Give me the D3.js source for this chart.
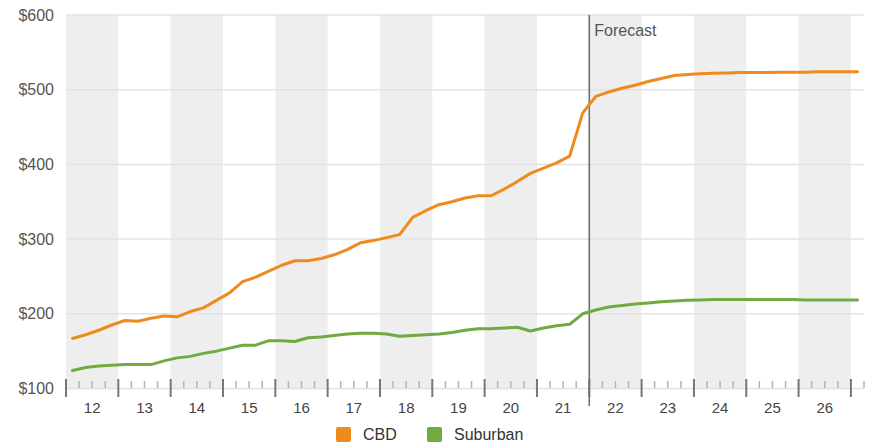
<!DOCTYPE html>
<html>
<head>
<meta charset="utf-8">
<script src="https://cdn.jsdelivr.net/npm/d3@7/dist/d3.min.js"></script>
<style>
  html, body { margin: 0; padding: 0; background: #fff; }
  svg { display: block; font-family: "Liberation Sans", Arial, Helvetica, sans-serif; }
</style>
</head>
<body>
<svg id="chart" width="886" height="447"></svg>
<script>
// Quarterly rents, 2012 Q1 through 2027 Q1 (forecast from 2022 Q1)
const years = d3.range(2012, 2028);
const quarters = years.flatMap(y => [1, 2, 3, 4].map(q => `${y} Q${q}`)).slice(0, 61);
const yearLabels = ["12", "13", "14", "15", "16", "17", "18", "19", "20", "21", "22", "23", "24", "25", "26"];
const yTicks = [100, 200, 300, 400, 500, 600];
const forecastStart = "2022 Q1";

const cbd = [
  167, 172, 178, 185,   191, 190, 194, 197,   196, 203, 208, 218,
  228, 243, 249, 257,   265, 271, 271, 274,   279, 286, 295, 298,
  302, 306, 329, 338,   346, 350, 355, 358,   358, 367, 377, 388,
  395, 402, 411, 469,   491, 497, 502, 506,   511, 515, 519, 520.5,
  521.5, 522, 522.5, 523, 523, 523, 523.5, 523.5, 523.5, 524, 524, 524,
  524
];
const suburban = [
  124, 128, 130, 131,   132, 132, 132, 137,   141, 143, 147, 150,
  154, 158, 158, 164,   164, 163, 168, 169,   171, 173, 174, 174,
  173, 170, 171, 172,   173, 175, 178, 180,   180, 181, 182, 177,
  181, 184, 186, 200,   205, 209, 211, 213,   214.5, 216, 217, 218,
  218.5, 219, 219, 219, 219, 219, 219, 219, 218.5, 218.5, 218.5, 218.5,
  218.5
];

const seriesNames = ["CBD", "Suburban"];
const seriesColors = ["#ef8a1c", "#6fab41"];

const svg = d3.select("#chart");
const plotLeft = 66, plotRight = 864, plotTop = 15, plotBottom = 388.5;

const x = d3.scaleBand().domain(quarters).range([plotLeft, plotRight]).paddingInner(0).paddingOuter(0);
const bw = x.bandwidth();
const y = d3.scaleLinear().domain([100, 600]).range([plotBottom, plotTop]);
const yearScale = d3.scaleBand().domain(yearLabels).range([plotLeft, x(quarters[60])]);

// alternating year bands
svg.append("g").selectAll("rect")
  .data(yearLabels.filter((d, i) => i % 2 === 0))
  .join("rect")
  .attr("x", d => yearScale(d))
  .attr("y", plotTop)
  .attr("width", yearScale.bandwidth())
  .attr("height", plotBottom - plotTop + 1)
  .attr("fill", "#eeeeee");

// horizontal grid
svg.append("g").selectAll("line")
  .data(yTicks)
  .join("line")
  .attr("x1", plotLeft).attr("x2", plotRight)
  .attr("y1", d => y(d)).attr("y2", d => y(d))
  .attr("stroke", "#e3e3e3")
  .attr("stroke-width", 1.5);

// y axis labels
const yAxis = svg.append("g")
  .attr("transform", `translate(${plotLeft - 12},0)`)
  .call(d3.axisLeft(y).tickValues(yTicks).tickSize(0).tickFormat(d => "$" + d));
yAxis.select(".domain").remove();
yAxis.selectAll("text")
  .attr("font-size", 16)
  .attr("font-family", "Liberation Sans, Arial, sans-serif")
  .attr("fill", "#555")
  .attr("x", 0);

// quarter ticks along the bottom
const boundaries = quarters.map(q => ({ pos: x(q), major: q.endsWith("Q1") }))
  .concat([{ pos: plotRight, major: false }]);
svg.append("g").selectAll("line")
  .data(boundaries)
  .join("line")
  .attr("x1", d => d.pos).attr("x2", d => d.pos)
  .attr("y1", d => d.major ? 379 : 381)
  .attr("y2", d => d.major ? 397 : 388)
  .attr("stroke", d => d.major ? "#777" : "#b5b5b5")
  .attr("stroke-width", d => d.major ? 2 : 1.5);

// year labels
const xAxis = svg.append("g")
  .attr("transform", `translate(0,${plotBottom + 11})`)
  .call(d3.axisBottom(yearScale).tickSize(0));
xAxis.select(".domain").remove();
xAxis.selectAll("text")
  .attr("font-size", 15)
  .attr("font-family", "Liberation Sans, Arial, sans-serif")
  .attr("fill", "#444");

// forecast marker
const fx = x(forecastStart);
svg.append("line")
  .attr("x1", fx).attr("x2", fx)
  .attr("y1", plotTop).attr("y2", 406)
  .attr("stroke", "#6e6e6e")
  .attr("stroke-width", 1.6);
svg.append("text")
  .attr("x", fx + 5).attr("y", 36)
  .attr("font-size", 16)
  .attr("fill", "#555")
  .text("Forecast");

// series lines
const line = d3.line()
  .x((d, i) => x(quarters[i]) + bw / 2)
  .y(d => y(d));
[cbd, suburban].forEach((values, k) => {
  svg.append("path")
    .datum(values)
    .attr("fill", "none")
    .attr("stroke", seriesColors[k])
    .attr("stroke-width", 3)
    .attr("stroke-linejoin", "round")
    .attr("stroke-linecap", "round")
    .attr("d", line);
});

// legend
const legendX = [336, 427];
const legend = svg.append("g");
seriesNames.forEach((name, k) => {
  const g = legend.append("g").attr("transform", `translate(${legendX[k]},0)`);
  g.append("rect")
    .attr("x", 0).attr("y", 427)
    .attr("width", 15).attr("height", 15)
    .attr("rx", 2)
    .attr("fill", seriesColors[k]);
  g.append("text")
    .attr("x", 27).attr("y", 440)
    .attr("font-size", 16)
    .attr("fill", "#333")
    .text(name);
});
</script>
</body>
</html>
